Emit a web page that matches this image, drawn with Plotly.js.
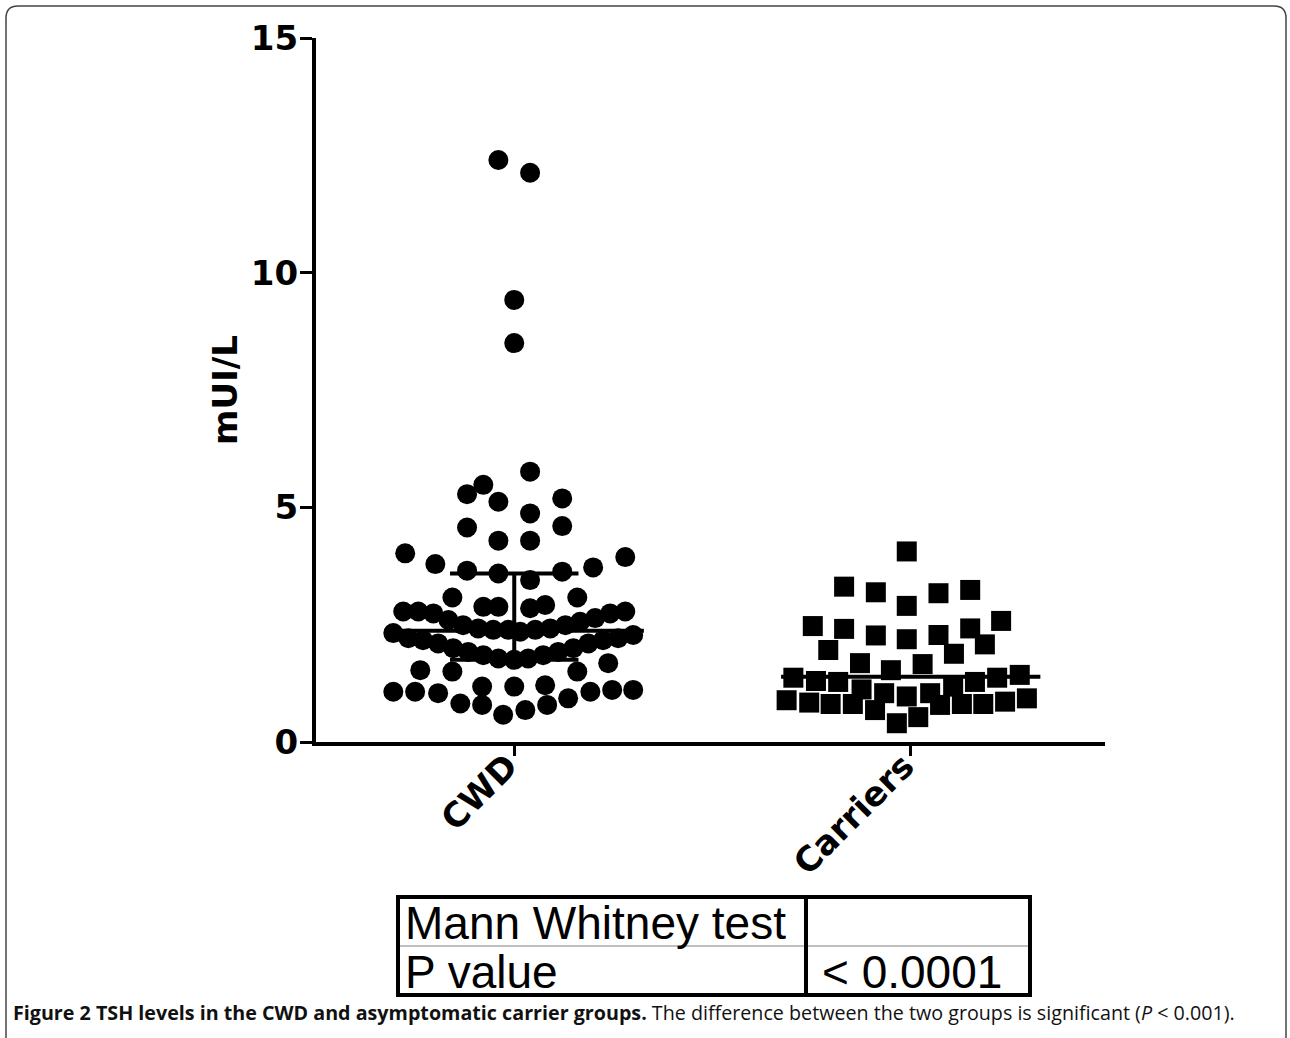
<!DOCTYPE html>
<html>
<head>
<meta charset="utf-8">
<script src="https://cdn.plot.ly/plotly-3.0.1.min.js"></script>
<style>html,body{margin:0;padding:0;background:#fff;}#chart{width:1290px;height:1038px;}</style>
</head>
<body>
<div id="chart"></div>
<script>
// ---------- data ----------
const categories = ["CWD", "Carriers"];
const yTicks = [0, 5, 10, 15];
const yTitle = "mUI/L";

// CWD: TSH values (mUI/L) and horizontal spread of each dot (category units)
const cwdValues = [12.40, 12.13, 9.42, 8.50, 5.76, 5.48, 5.28, 5.12, 5.19, 4.87,
  4.57, 4.60, 4.29, 4.29, 4.02, 3.94, 3.79, 3.72, 3.65, 3.59,
  3.45, 3.63, 3.08, 3.08, 2.88, 2.88, 2.85, 2.92,
  2.78, 2.78, 2.74, 2.60, 2.49, 2.42, 2.39, 2.39, 2.35, 2.39, 2.42, 2.49, 2.56, 2.64, 2.74, 2.78,
  2.32, 2.21, 2.17, 2.10, 2.00, 1.92, 1.85, 1.78, 1.75, 1.78, 1.85, 1.92, 2.00, 2.10, 2.17, 2.21, 2.28,
  1.53, 1.50, 1.07, 1.07, 1.04, 1.18, 1.18, 0.82, 0.79, 0.58,
  1.50, 1.68, 1.21, 1.07, 1.11, 1.11, 0.93, 0.79, 0.68];
const cwdJitter = [-0.040, 0.040, 0, 0, 0.040, -0.078, -0.119, -0.040, 0.121, 0.040,
  -0.119, 0.121, -0.040, 0.040, -0.275, 0.280, -0.199, 0.199, -0.119, -0.040,
  0.040, 0.121, -0.156, 0.159, -0.078, -0.040, 0.040, 0.078,
  -0.280, -0.242, -0.204, -0.166, -0.129, -0.091, -0.053, -0.015, 0.015, 0.053, 0.091, 0.129, 0.166, 0.204, 0.242, 0.280,
  -0.305, -0.267, -0.230, -0.192, -0.154, -0.116, -0.078, -0.040, 0, 0.035, 0.073, 0.111, 0.149, 0.187, 0.224, 0.262, 0.300,
  -0.237, -0.156, -0.305, -0.250, -0.192, -0.081, 0, -0.136, -0.081, -0.028,
  0.159, 0.237, 0.078, 0.192, 0.247, 0.300, 0.136, 0.083, 0.028];

// Carriers
const carrierValues = [4.06, 3.31, 3.19, 3.17, 3.24, 2.90, 2.47, 2.41, 2.27, 2.19,
  2.28, 2.42, 2.58, 2.08, 1.96, 1.88, 1.68, 1.66, 1.53,
  1.37, 1.30, 1.28, 1.12, 1.04, 0.97, 1.04, 1.18, 1.28, 1.37, 1.43,
  0.89, 0.84, 0.81, 0.81, 0.68, 0.40, 0.53, 0.79, 0.81, 0.81, 0.86, 0.93];
const carrierJitter = [-0.010, -0.168, -0.088, 0.070, 0.150, -0.010, -0.247, -0.168, -0.088, -0.010,
  0.070, 0.150, 0.228, 0.187, -0.208, 0.109, -0.128, 0.030, -0.050,
  -0.296, -0.239, -0.183, -0.124, -0.067, -0.010, 0.049, 0.107, 0.162, 0.218, 0.275,
  -0.313, -0.256, -0.202, -0.146, -0.090, -0.035, 0.019, 0.074, 0.129, 0.183, 0.238, 0.293];

// summary lines: median and interquartile range
const medians = [2.37, 1.39];
const cwdIQR = [1.75, 3.59];

const tableRows = [["Mann Whitney test", ""], ["P value", "&lt; 0.0001"]];
const caption = "<b>Figure 2 TSH levels in the CWD and asymptomatic carrier groups.</b> The difference between the two groups is significant (<i>P</i> &lt; 0.001).";

// ---------- layout helpers ----------
const L = 316, R = 1105, T = 38, B = 742;
const W = R - L, H = B - T;
const PX = p => (p - L) / W;
const PY = p => (B - p) / H;

const medHalf = 0.327, capHalf = 0.162;

const traces = [
  {x: cwdJitter.map(d => 0 + d), y: cwdValues, type: "scatter", mode: "markers",
   marker: {symbol: "circle", size: 20, color: "#000"}, hoverinfo: "skip"},
  {x: carrierJitter.map(d => 1 + d), y: carrierValues, type: "scatter", mode: "markers",
   marker: {symbol: "square", size: 20, color: "#000"}, hoverinfo: "skip"},
  {x: [-medHalf, medHalf], y: [medians[0], medians[0]], mode: "lines", line: {color: "#000", width: 4}, hoverinfo: "skip"},
  {x: [0, 0], y: [cwdIQR[0], cwdIQR[1]], mode: "lines", line: {color: "#000", width: 4}, hoverinfo: "skip"},
  {x: [-capHalf, capHalf], y: [cwdIQR[0], cwdIQR[0]], mode: "lines", line: {color: "#000", width: 4}, hoverinfo: "skip"},
  {x: [-capHalf, capHalf], y: [cwdIQR[1], cwdIQR[1]], mode: "lines", line: {color: "#000", width: 4}, hoverinfo: "skip"},
  {x: [1 - medHalf, 1 + medHalf], y: [medians[1], medians[1]], mode: "lines", line: {color: "#000", width: 4}, hoverinfo: "skip"}
];

const tX0 = 398, tX1 = 1030, tY0 = 897, tY1 = 995, tMidX = 806, tMidY = 946;
const frameR = 12;
const framePath = `M ${PX(6)},${PY(1040)} L ${PX(6)},${PY(6 + frameR)} Q ${PX(6)},${PY(6)} ${PX(6 + frameR)},${PY(6)} L ${PX(1286 - frameR)},${PY(6)} Q ${PX(1286)},${PY(6)} ${PX(1286)},${PY(6 + frameR)} L ${PX(1286)},${PY(1040)}`;

const shapes = [
  {type: "path", xref: "paper", yref: "paper", path: framePath, line: {color: "#444", width: 1.5}},
  {type: "line", xref: "paper", yref: "paper", x0: PX(tX0), x1: PX(tX1), y0: PY(tMidY), y1: PY(tMidY), line: {color: "#aaa", width: 1.5}},
  {type: "rect", xref: "paper", yref: "paper", x0: PX(tX0), x1: PX(tX1), y0: PY(tY0), y1: PY(tY1), line: {color: "#000", width: 4}},
  {type: "line", xref: "paper", yref: "paper", x0: PX(tMidX), x1: PX(tMidX), y0: PY(tY0), y1: PY(tY1), line: {color: "#000", width: 4}}
];

const tFont = {family: "Liberation Sans, Arial, sans-serif", size: 46, color: "#000"};
const rowY = [(tY0 + tMidY) / 2 + 1, (tMidY + tY1) / 2 + 1];
const annotations = [];
// rotated category labels
categories.forEach((c, i) => {
  annotations.push({xref: "x", yref: "paper", x: i, y: PY(743), xanchor: "right", yanchor: "top",
    xshift: 14, textangle: -45, text: "<b>" + c + "</b>", showarrow: false,
    font: {family: "DejaVu Sans, sans-serif", size: 34, color: "#000"}});
});
tableRows.forEach((row, i) => {
  annotations.push({xref: "paper", yref: "paper", x: PX(tX0 + 5), y: PY(rowY[i]), xanchor: "left", yanchor: "middle",
    text: row[0], showarrow: false, font: tFont});
  if (row[1]) annotations.push({xref: "paper", yref: "paper", x: PX(tX1 - 26), y: PY(rowY[i]), xanchor: "right", yanchor: "middle",
    text: row[1], showarrow: false, font: tFont});
});
annotations.push({xref: "paper", yref: "paper", x: PX(11), y: PY(1012), xanchor: "left", yanchor: "middle",
  text: caption, showarrow: false, font: {family: "Open Sans, sans-serif", size: 19.7, color: "#111"}});

const layout = {
  width: 1290, height: 1038,
  margin: {l: L, r: 1290 - R, t: T, b: 1038 - B, pad: 0},
  paper_bgcolor: "#fff", plot_bgcolor: "#fff",
  showlegend: false,
  xaxis: {
    range: [-0.5, 1.49], showgrid: false, zeroline: false, showline: true, linecolor: "#000", linewidth: 4,
    tickvals: [0, 1], ticktext: categories, ticks: "outside", ticklen: 10, tickwidth: 3, tickcolor: "#000",
    showticklabels: false
  },
  yaxis: {
    range: [0, 15], showgrid: false, zeroline: false, showline: true, linecolor: "#000", linewidth: 4,
    tickvals: yTicks, ticks: "outside", ticklen: 12, tickwidth: 3, tickcolor: "#000",
    ticklabelstandoff: -5,
    tickfont: {family: "DejaVu Sans, sans-serif", size: 34, color: "#000", weight: "bold"},
    title: {text: "<b>" + yTitle + "</b>", standoff: 4, font: {family: "DejaVu Sans, sans-serif", size: 34, color: "#000"}}
  },
  shapes: shapes,
  annotations: annotations
};

Plotly.newPlot("chart", traces, layout, {staticPlot: true, displayModeBar: false});
</script>
</body>
</html>
